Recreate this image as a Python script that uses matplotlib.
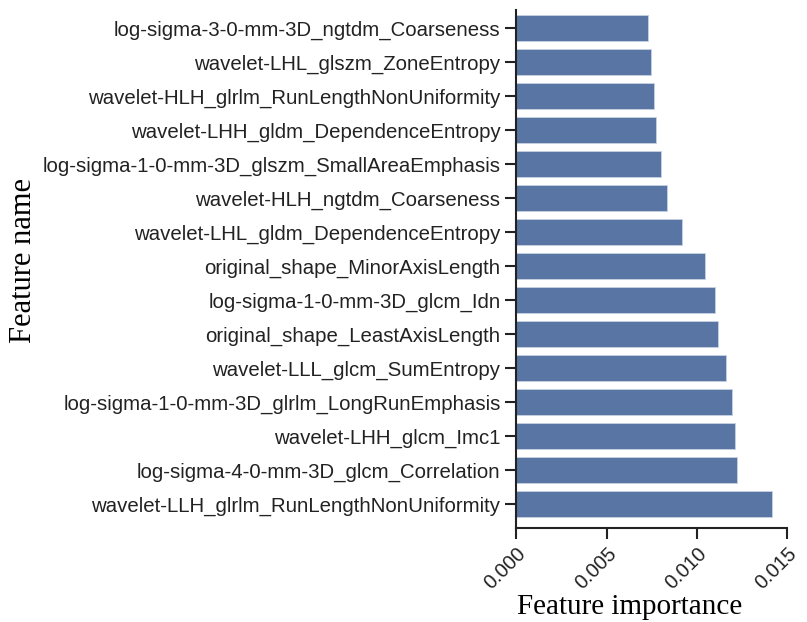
import numpy as np
import matplotlib.pyplot as plt

features = [
    'log-sigma-3-0-mm-3D_ngtdm_Coarseness',
    'wavelet-LHL_glszm_ZoneEntropy',
    'wavelet-HLH_glrlm_RunLengthNonUniformity',
    'wavelet-LHH_gldm_DependenceEntropy',
    'log-sigma-1-0-mm-3D_glszm_SmallAreaEmphasis',
    'wavelet-HLH_ngtdm_Coarseness',
    'wavelet-LHL_gldm_DependenceEntropy',
    'original_shape_MinorAxisLength',
    'log-sigma-1-0-mm-3D_glcm_Idn',
    'original_shape_LeastAxisLength',
    'wavelet-LLL_glcm_SumEntropy',
    'log-sigma-1-0-mm-3D_glrlm_LongRunEmphasis',
    'wavelet-LHH_glcm_Imc1',
    'log-sigma-4-0-mm-3D_glcm_Correlation',
    'wavelet-LLH_glrlm_RunLengthNonUniformity',
]
importance = [0.00728, 0.00746, 0.00765, 0.00774, 0.00802, 0.00837, 0.00920,
              0.01048, 0.01102, 0.01120, 0.01161, 0.01198, 0.01213, 0.01226,
              0.01420]
xticks = [0.000, 0.005, 0.010, 0.015]

fig = plt.figure(figsize=(8.07, 6.22), dpi=100)
ax = fig.add_axes([0.640, 0.1516, 0.335, 0.8324])

y = np.arange(len(features))
ax.barh(y, importance, height=0.78, color='#5975a4', edgecolor='#c8d2e4', linewidth=0.6)

ax.set_yticks(y)
ax.set_yticklabels(features, fontsize=14.7, family='Liberation Sans', color='#222222')
ax.set_ylim(14.70, -0.53)
ax.set_xlim(0, 0.015)
ax.set_xticks(xticks)
ax.set_xticklabels([f'{v:.3f}' for v in xticks], rotation=45, ha='right',
                   rotation_mode='anchor', fontsize=14.5, family='Liberation Sans',
                   color='#222222')

for s in ['top', 'right']:
    ax.spines[s].set_visible(False)
for s in ['left', 'bottom']:
    ax.spines[s].set_linewidth(1.5)
    ax.spines[s].set_color('#222222')
ax.tick_params(axis='both', length=8, width=1.5, color='#222222')

ax.set_xlabel('Feature importance', fontsize=21, family='Liberation Serif')
ax.xaxis.set_label_coords(0.42, -0.128)
ax.set_ylabel('Feature name', fontsize=22, family='Liberation Serif')
ax.yaxis.set_label_coords(-1.77, 0.517)

fig.savefig('out.png', dpi=100)
